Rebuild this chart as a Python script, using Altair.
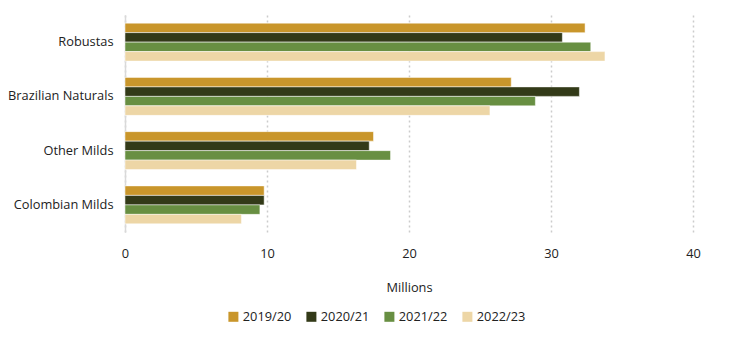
import altair as alt
import pandas as pd

categories = ["Robustas", "Brazilian Naturals", "Other Milds", "Colombian Milds"]
seasons = ["2019/20", "2020/21", "2021/22", "2022/23"]
values = {
    "2019/20": [32.4, 27.2, 17.5, 9.8],
    "2020/21": [30.8, 32.0, 17.2, 9.8],
    "2021/22": [32.8, 28.9, 18.7, 9.5],
    "2022/23": [33.8, 25.7, 16.3, 8.2],
}
colors = ["#C9962B", "#333A18", "#688F42", "#EDD6A6"]

rows = []
for s in seasons:
    for c, v in zip(categories, values[s]):
        rows.append({"category": c, "season": s, "value": v})
df = pd.DataFrame(rows)

FONT = "Open Sans"
FS = 12.8

chart = alt.Chart(df).mark_bar(stroke="#ffffff", strokeWidth=0.5).encode(
    y=alt.Y("category:N", sort=categories, title=None,
            scale=alt.Scale(paddingInner=0.3, paddingOuter=0.15),
            axis=alt.Axis(ticks=False, domain=True, domainColor="#d9d9d9", domainWidth=1.5,
                          labelFontSize=FS, labelColor="#222222", labelPadding=12, grid=False,
                          labelFont=FONT)),
    yOffset=alt.YOffset("season:N", sort=seasons),
    x=alt.X("value:Q", title="Millions",
            scale=alt.Scale(domain=[0, 40], nice=False),
            axis=alt.Axis(values=[0, 10, 20, 30, 40], ticks=False, domain=False,
                          labelFlush=False,
                          grid=True, gridDash=[2, 3], gridColor="#cccccc", gridWidth=1.5,
                          labelFontSize=FS, labelColor="#222222", labelPadding=15,
                          titleFontSize=FS, titleFontWeight="normal", titleColor="#222222",
                          titlePadding=22, labelFont=FONT, titleFont=FONT)),
    color=alt.Color("season:N", sort=seasons,
                    scale=alt.Scale(domain=seasons, range=colors),
                    legend=alt.Legend(title=None, orient="none", direction="horizontal",
                                      legendX=102, legendY=295,
                                      symbolType="square", symbolSize=100,
                                      symbolStrokeWidth=0, labelFontSize=FS,
                                      labelColor="#222222", labelFont=FONT,
                                      columnPadding=13, labelOffset=3)),
).properties(
    width=568, height=217,
    padding={"left": 125, "top": 15, "right": 51, "bottom": 107},
    autosize=alt.AutoSizeParams(type="none"),
).configure_view(stroke=None)

chart.save("out.html", embed_options={"renderer": "svg", "actions": False})
